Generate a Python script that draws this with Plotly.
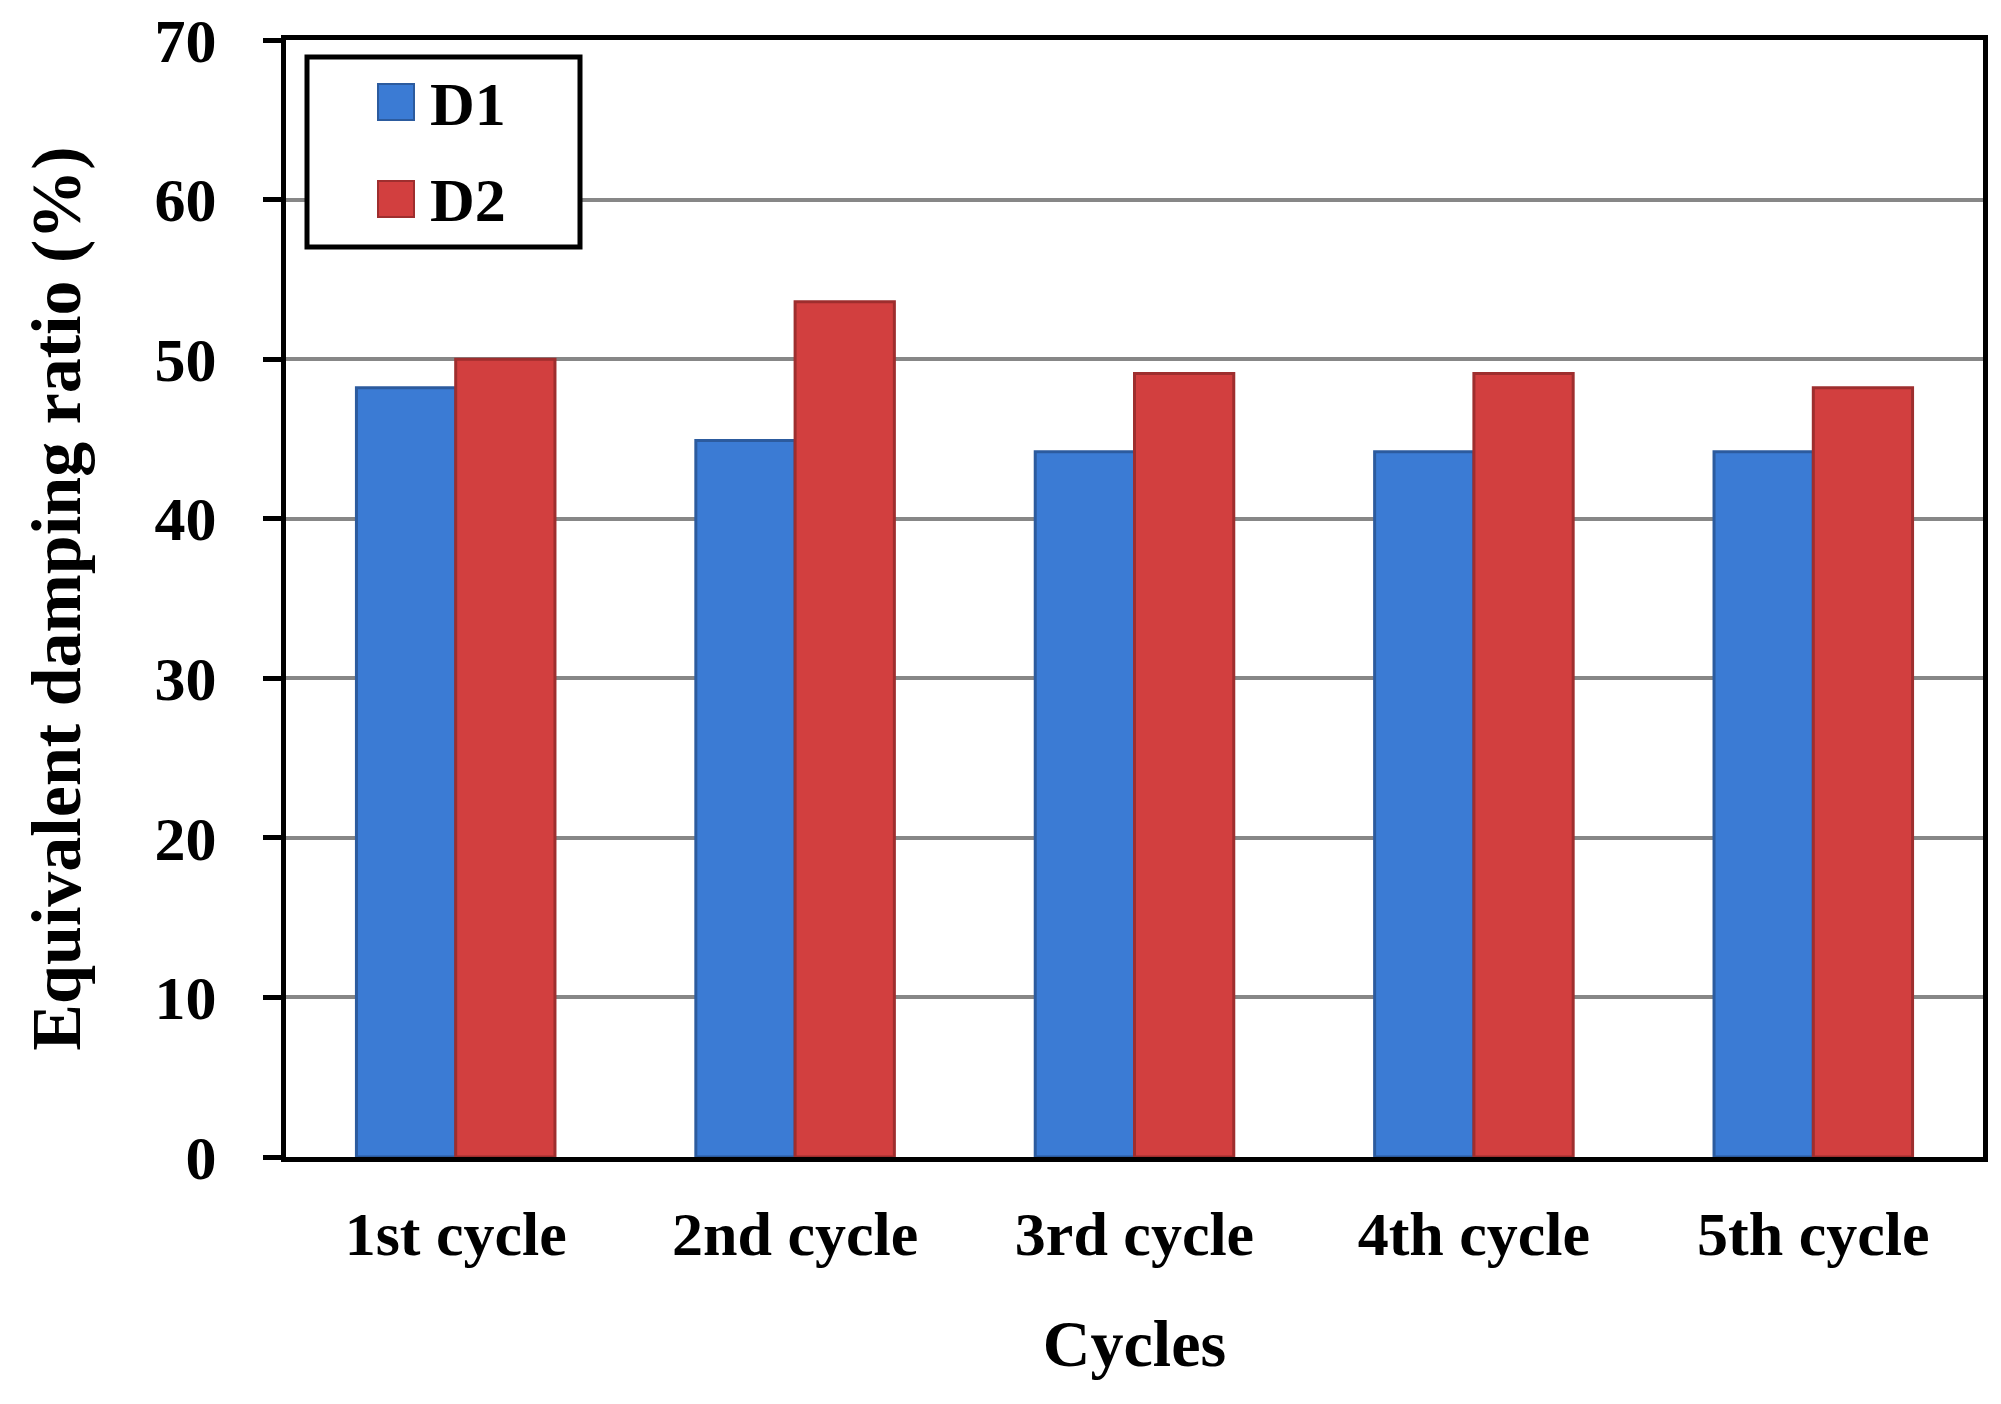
import plotly.graph_objects as go

categories = ["1st cycle", "2nd cycle", "3rd cycle", "4th cycle", "5th cycle"]
d1_values = [48.2, 44.9, 44.2, 44.2, 44.2]
d2_values = [50.0, 53.6, 49.1, 49.1, 48.2]
series_names = ["D1", "D2"]
y_ticks = [0, 10, 20, 30, 40, 50, 60, 70]

# Figure sized to fit the window inside the page's default body margin
OFF = 8
W, H = 1985, 1388
L, R, T, B = 278, 10, 32, 239
PW, PH = W - L - R, H - T - B

FONT = "Liberation Serif"
BLUE = "#3b7bd4"
BLUE_EDGE = "#2c5b9e"
RED = "#d23f3f"
RED_EDGE = "#9e2e2e"

fig = go.Figure()
fig.add_trace(go.Bar(x=categories, y=d1_values, name=series_names[0],
                     marker=dict(color=BLUE, line=dict(color=BLUE_EDGE, width=3)),
                     showlegend=False))
fig.add_trace(go.Bar(x=categories, y=d2_values, name=series_names[1],
                     marker=dict(color=RED, line=dict(color=RED_EDGE, width=3)),
                     showlegend=False))


def px_x(p):
    return (p - OFF - L) / PW


def px_y(p):
    return (H - B - (p - OFF)) / PH


# Manual legend (large swatches as in the reference)
shapes = [
    dict(type="rect", xref="paper", yref="paper",
         x0=px_x(307), x1=px_x(580), y0=px_y(247), y1=px_y(57),
         line=dict(color="black", width=5), fillcolor="white", layer="above"),
    dict(type="rect", xref="paper", yref="paper",
         x0=px_x(378), x1=px_x(414), y0=px_y(120), y1=px_y(84),
         line=dict(color=BLUE_EDGE, width=2), fillcolor=BLUE, layer="above"),
    dict(type="rect", xref="paper", yref="paper",
         x0=px_x(378), x1=px_x(414), y0=px_y(217), y1=px_y(181),
         line=dict(color=RED_EDGE, width=2), fillcolor=RED, layer="above"),
]
annotations = [
    dict(text=series_names[0], xref="paper", yref="paper", x=px_x(428), y=px_y(104),
         xanchor="left", yanchor="middle", showarrow=False,
         font=dict(family=FONT, size=62, color="black", weight=700)),
    dict(text=series_names[1], xref="paper", yref="paper", x=px_x(428), y=px_y(200),
         xanchor="left", yanchor="middle", showarrow=False,
         font=dict(family=FONT, size=62, color="black", weight=700)),
]

fig.update_layout(
    width=W, height=H,
    margin=dict(l=L, r=R, t=T, b=B, autoexpand=False),
    paper_bgcolor="white", plot_bgcolor="white",
    barmode="group", bargap=0.415, bargroupgap=0,
    font=dict(family=FONT, color="black", weight=700),
    shapes=shapes, annotations=annotations,
    xaxis=dict(
        title=dict(text="Cycles", font=dict(family=FONT, size=66, weight=700), standoff=54),
        showline=True, linecolor="black", linewidth=5, mirror=True,
        ticks="", tickfont=dict(family=FONT, size=62, weight=700),
        ticklabelstandoff=19, automargin=False,
    ),
    yaxis=dict(
        title=dict(text="Equivalent damping ratio (%)", font=dict(family=FONT, size=70, weight=700), standoff=53),
        range=[0, 70], tickvals=y_ticks, ticktext=[str(v) for v in y_ticks],
        showline=True, linecolor="black", linewidth=5, mirror=True,
        ticks="outside", ticklen=18, tickwidth=5, tickcolor="black",
        tickfont=dict(family=FONT, size=62, weight=700),
        ticklabelstandoff=34, ticklabeloverflow="allow",
        showgrid=True, gridcolor="#878787", gridwidth=4, zeroline=False,
        automargin=False,
    ),
)

fig.write_html("out.html")
